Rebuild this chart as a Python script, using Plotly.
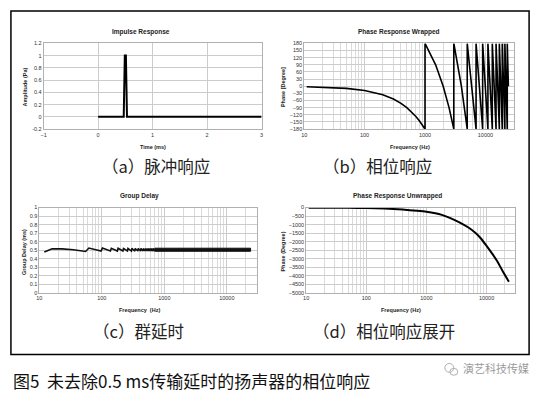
import plotly.graph_objects as go

W, H = 541, 394

# ---------------- data ----------------
# (a) impulse response
t_ms = [0, 0.47, 0.49, 0.51, 0.53, 3]
amp_pa = [0, 0, 1, 1, 0, 0]

# (b) wrapped phase
freq_b = [11, 20, 50, 100, 150, 200, 300, 400, 500, 600, 700, 800, 900, 1000,
          1000, 1500, 2000, 2500, 3000,
          3000, 4000, 5000,
          5000, 6000, 7000,
          7000, 8000, 9000,
          9000, 10000, 11000,
          11000, 12000, 13000,
          13000, 14000, 15000,
          15000, 16000, 17000,
          17000, 18000, 19000,
          19000, 20000, 21000,
          21000, 22000, 23000,
          23000, 24000]
phase_b = [-2, -3.6, -9, -18, -27, -36, -54, -72, -90, -108, -126, -144, -162, -180,
           180, 90, 0, -90, -180,
           180, 0, -180,
           180, 0, -180,
           180, 0, -180,
           180, 0, -180,
           180, 0, -180,
           180, 0, -180,
           180, 0, -180,
           180, 0, -180,
           180, 0, -180,
           180, 0, -180,
           180, 0]

# (c) group delay
gd_freq = [12, 16, 23, 35, 55, 62, 97, 102, 137, 142, 177, 182, 217, 222, 257, 262,
           297, 302, 337, 342, 377, 382, 417, 422, 457, 462, 497, 502, 537, 542,
           577, 582, 617, 622, 657, 662, 697, 702]
gd_ms = [0.478, 0.517, 0.515, 0.505, 0.485, 0.525, 0.49, 0.525, 0.49, 0.522, 0.49, 0.522,
         0.49, 0.52, 0.49, 0.52, 0.49, 0.52, 0.49, 0.52, 0.49, 0.52, 0.49, 0.52,
         0.49, 0.52, 0.49, 0.52, 0.49, 0.52, 0.49, 0.52, 0.49, 0.52, 0.49, 0.52,
         0.49, 0.52]
band_freq = [700, 24000, 24000, 700]
band_ms = [0.487, 0.487, 0.523, 0.523]

# (d) unwrapped phase
freq_d = [11, 50, 100, 200, 400, 700, 1000, 1800, 2500, 3600, 5000, 6500, 8000,
          10000, 12500, 15500, 19000, 23500]
phase_d = [-5, -15, -30, -60, -120, -190, -250, -430, -620, -880, -1170, -1480, -1800,
           -2250, -2720, -3220, -3800, -4350]

# tick labels
a_xticks = [-1, 0, 1, 2, 3]
a_yticks = [-0.2, 0, 0.2, 0.4, 0.6, 0.8, 1, 1.2]
a_ytext = ["-0.2", "0", "0.2", "0.4", "0.6", "0.8", "1", "1.2"]
log_vals = [10, 100, 1000, 10000]
log_text = ["10", "100", "1000", "10000"]
b_yticks = list(range(-180, 181, 30))
c_yticks = [0, 0.1, 0.2, 0.3, 0.4, 0.5, 0.6, 0.7, 0.8, 0.9, 1]
c_ytext = ["0", "0.1", "0.2", "0.3", "0.4", "0.5", "0.6", "0.7", "0.8", "0.9", "1"]
d_yticks = list(range(-5000, 1, 500))

# ---------------- helpers ----------------
def px(x):
    return x / W

def py(y):
    return 1 - y / H

GRID = "#cccccc"
LINE = "#b0b0b0"
TICKF = dict(family="Liberation Sans, Arial, sans-serif", size=5.5, color="#333333")

def base_axis(**kw):
    d = dict(showgrid=True, gridcolor=GRID, gridwidth=0.8, showline=True, linecolor=LINE,
             linewidth=0.8, mirror=True, zeroline=False, ticks="", tickfont=TICKF,
             fixedrange=True)
    d.update(kw)
    return d

def log_axis(dom):
    return base_axis(type="log", domain=dom, range=[1, 4.477], tickvals=log_vals,
                     ticktext=log_text,
                     minor=dict(showgrid=True, gridcolor="#dadada", gridwidth=0.6,
                                dtick="D1"))

fig = go.Figure()
LW = 2
fig.add_trace(go.Scatter(x=t_ms, y=amp_pa, mode="lines", line=dict(color="black", width=LW),
                         xaxis="x", yaxis="y", showlegend=False))
fig.add_trace(go.Scatter(x=freq_b, y=phase_b, mode="lines", line=dict(color="black", width=1.6),
                         xaxis="x2", yaxis="y2", showlegend=False))
fig.add_trace(go.Scatter(x=band_freq, y=band_ms, mode="lines", fill="toself", fillcolor="#111",
                         line=dict(color="#111", width=1), xaxis="x3", yaxis="y3",
                         showlegend=False))
fig.add_trace(go.Scatter(x=gd_freq, y=gd_ms, mode="lines", line=dict(color="#111", width=1.6),
                         xaxis="x3", yaxis="y3", showlegend=False))
fig.add_trace(go.Scatter(x=freq_d, y=phase_d, mode="lines", line=dict(color="black", width=LW,
                         shape="spline", smoothing=0.6),
                         xaxis="x4", yaxis="y4", showlegend=False))

top_dom = [py(128), py(41)]
bot_dom = [py(294.3), py(207.7)]

fig.update_layout(
    width=W, height=H, margin=dict(l=0, r=0, t=0, b=0),
    paper_bgcolor="white", plot_bgcolor="white",
    xaxis=base_axis(domain=[px(41), px(261)], range=[-1, 3], tickvals=a_xticks, anchor="y"),
    yaxis=base_axis(domain=top_dom, range=[-0.2, 1.2], tickvals=a_yticks, ticktext=a_ytext,
                    anchor="x"),
    xaxis2=dict(log_axis([px(304), px(516)]), anchor="y2"),
    yaxis2=base_axis(domain=top_dom, range=[-180, 180], tickvals=b_yticks, anchor="x2"),
    xaxis3=dict(log_axis([px(36.7), px(256)]), anchor="y3"),
    yaxis3=base_axis(domain=bot_dom, range=[0, 1], tickvals=c_yticks, ticktext=c_ytext,
                     anchor="x3"),
    xaxis4=dict(log_axis([px(306), px(517)]), anchor="y4"),
    yaxis4=base_axis(domain=bot_dom, range=[-5000, 0], tickvals=d_yticks, anchor="x4"),
)

ann = []
def txt(x, y, s, size, color="#222", bold=False, family="Liberation Sans, Arial, sans-serif",
        angle=0, xanchor="center"):
    if bold:
        s = "<b>" + s + "</b>"
    ann.append(dict(x=px(x), y=py(y), xref="paper", yref="paper", text=s, showarrow=False,
                    font=dict(size=size, color=color, family=family), textangle=angle,
                    xanchor=xanchor, yanchor="middle"))

# chart titles
txt(139, 29, "Impulse Response", 6.5, bold=True)
txt(400, 29, "Phase Response Wrapped", 6.5, bold=True)
txt(138, 196, "Group Delay", 6.5, bold=True)
txt(398, 196, "Phase Response Unwrapped", 6.5, bold=True)
# axis titles
txt(151, 146, "Time (ms)", 5.5, bold=True)
txt(411, 146, "Frequency (Hz)", 5.5, bold=True)
txt(138, 312, "Frequency  (Hz)", 5.5, bold=True)
txt(402, 312, "Frequency (Hz)", 5.5, bold=True)
txt(22, 85, "Amplitude (Pa)", 5.5, bold=True, angle=-90)
txt(282, 85, "Phase [Degree]", 5.5, bold=True, angle=-90)
txt(21, 253, "Group Delay (ms)", 5.5, bold=True, angle=-90)
txt(283, 252, "Phase (Degree)", 5.5, bold=True, angle=-90)

CJK = "Noto Sans CJK SC"
txt(154, 166, "（a）脉冲响应", 16.5, family=CJK)
txt(378, 166, "（b）相位响应", 16.5, family=CJK)
txt(137, 333, "（c）群延时", 16.5, family=CJK)
txt(385, 333, "（d）相位响应展开", 16.5, family=CJK)
txt(8, 383, "图5  未去除0.5 ms传输延时的扬声器的相位响应", 17, color="#111", family=CJK,
    xanchor="left")
txt(462, 371, "演艺科技传媒", 11, color="#9a9a9a", family=CJK, xanchor="left")

fig.update_layout(annotations=ann)

shapes = [
    dict(type="rect", xref="paper", yref="paper", x0=px(8), x1=px(531), y0=py(357), y1=py(8),
         line=dict(color="black", width=1.5)),
    dict(type="circle", xref="paper", yref="paper", x0=px(446), x1=px(455), y0=py(375),
         y1=py(366), line=dict(color="#b0b0b0", width=1)),
    dict(type="circle", xref="paper", yref="paper", x0=px(451), x1=px(459), y0=py(378),
         y1=py(371), line=dict(color="#b0b0b0", width=1)),
]
fig.update_layout(shapes=shapes)

fig.write_html("out.html", config={"displayModeBar": False},
               post_script="document.body.style.margin='0';document.body.style.padding='0';")
